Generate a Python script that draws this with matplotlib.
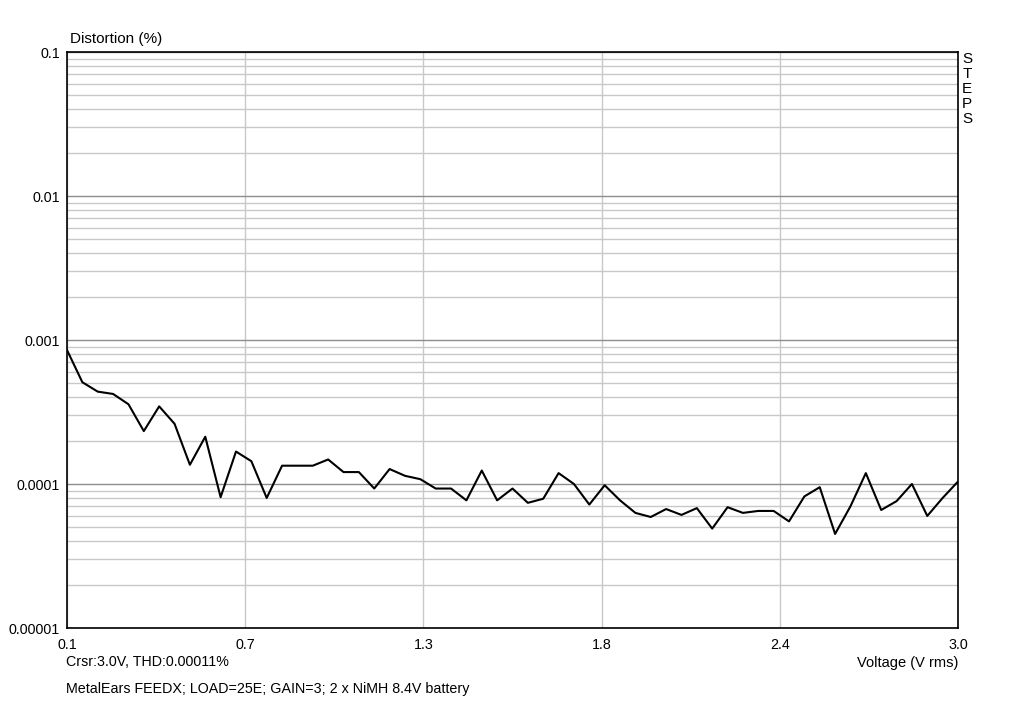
import numpy as np
import matplotlib
matplotlib.use("Agg")
import matplotlib.pyplot as plt
from matplotlib.ticker import LogLocator, FixedLocator, NullFormatter

plt.rcParams['font.family'] = ['Liberation Sans', 'DejaVu Sans']

# Data
voltage = [round(0.1 + 0.05 * i, 2) for i in range(60)]
thd_e4 = [8.52, 5.09, 4.38, 4.22, 3.58, 2.33, 3.46, 2.62, 1.36, 2.13,
          0.81, 1.68, 1.44, 0.80, 1.34, 1.34, 1.34, 1.48, 1.21, 1.21,
          0.93, 1.27, 1.14, 1.08, 0.93, 0.93, 0.77, 1.24, 0.77, 0.93,
          0.74, 0.79, 1.19, 1.00, 0.72, 0.98, 0.77, 0.63, 0.59, 0.67,
          0.61, 0.68, 0.49, 0.69, 0.63, 0.65, 0.65, 0.55, 0.82, 0.95,
          0.45, 0.70, 1.19, 0.66, 0.76, 1.00, 0.60, 0.80, 1.04, 1.04]
thd = [v * 1e-4 for v in thd_e4]

x_ticks = [0.1, 0.68, 1.26, 1.84, 2.42, 3.0]
x_labels = ["0.1", "0.7", "1.3", "1.8", "2.4", "3.0"]
y_ticks = [1e-5, 1e-4, 1e-3, 1e-2, 1e-1]
y_labels = ["0.00001", "0.0001", "0.001", "0.01", "0.1"]

fig = plt.figure(figsize=(10.24, 7.01), dpi=100)
fig.patch.set_facecolor('white')
ax = fig.add_axes([67/1024, 1 - 628/701, 891/1024, 576/701])
ax.set_yscale('log')
ax.set_xlim(0.1, 3.0)
ax.set_ylim(1e-5, 1e-1)

ax.yaxis.set_major_locator(FixedLocator(y_ticks))
ax.set_yticklabels(y_labels)
ax.yaxis.set_minor_locator(LogLocator(base=10, subs=np.arange(2, 10)))
ax.yaxis.set_minor_formatter(NullFormatter())
ax.set_xticks(x_ticks)
ax.set_xticklabels(x_labels)

ax.grid(True, which='major', axis='y', color='#8c8c8c', linewidth=1.0)
ax.grid(True, which='minor', axis='y', color='#c8c8c8', linewidth=1.0)
ax.grid(True, which='major', axis='x', color='#c8c8c8', linewidth=1.0)
ax.set_axisbelow(True)

ax.tick_params(axis='both', which='both', length=0, labelsize=10.3, colors='black')
ax.tick_params(axis='x', pad=7.5)
ax.tick_params(axis='y', pad=5)

for s in ax.spines.values():
    s.set_color('black')
    s.set_linewidth(1.2)

ax.plot(voltage, thd, color='black', linewidth=1.5, zorder=3)

fig.text(70/1024, 1 - 39/701, "Distortion (%)", fontsize=11, ha='left', va='center')
fig.text(66/1024, 1 - 662/701, "Crsr:3.0V, THD:0.00011%", fontsize=10.3, ha='left', va='center')
fig.text(958/1024, 1 - 663/701, "Voltage (V rms)", fontsize=10.5, ha='right', va='center')
fig.text(66/1024, 1 - 689/701, "MetalEars FEEDX; LOAD=25E; GAIN=3; 2 x NiMH 8.4V battery",
         fontsize=10.3, ha='left', va='center')
for i, ch in enumerate("STEPS"):
    fig.text(967/1024, 1 - (59 + 15 * i)/701, ch, fontsize=11, ha='center', va='center')

fig.savefig("out.png", dpi=100, facecolor='white')
